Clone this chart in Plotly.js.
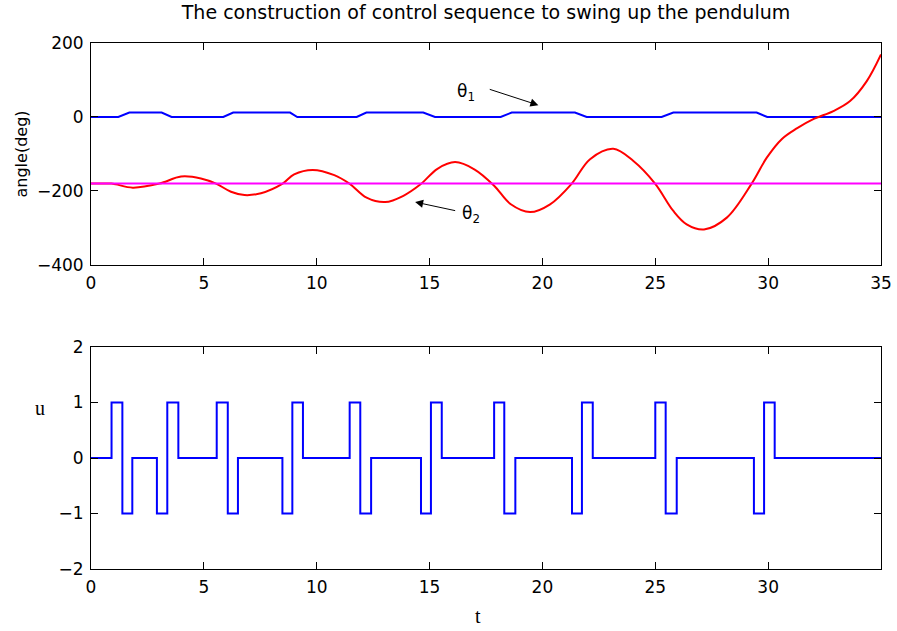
<!DOCTYPE html>
<html>
<head>
<meta charset="utf-8">
<script src="https://cdn.plot.ly/plotly-3.0.1.min.js"></script>
<style>html,body{margin:0;padding:0;background:#fff;}#chart{width:897px;height:631px;}</style>
</head>
<body>
<div id="chart"></div>
<script>
// theta1 (link 1 angle, deg)
const th1T = [0, 1.21, 1.70, 3.13, 3.57, 5.86, 6.30, 8.82, 9.14, 11.77, 12.20, 14.72, 15.24, 18.15, 18.64, 21.44, 21.96, 25.28, 25.80, 29.49, 29.96, 35];
const th1V = [0, 0, 12, 12, 0, 0, 12, 12, 0, 0, 12, 12, 0, 0, 12, 12, 0, 0, 12, 12, 0, 0];
// theta2 (pendulum angle, deg)
const th2T = [0, 0.9, 1.1, 1.85, 3.03, 3.99, 4.87, 5.54, 6.2, 6.8, 7.53, 8.49, 9.0, 9.82, 10.78, 11.45, 12.21, 13.03, 13.84, 14.6, 15.35, 16.13, 17.0, 17.85, 18.6, 19.45, 20.34, 21.3, 22.11, 23.14, 24.03, 24.99, 25.8, 26.39, 27.16, 28.17, 29.27, 29.94, 30.6, 31.27, 32.0, 32.89, 33.63, 34.37, 35];
const th2V = [-180, -180, -182, -191, -180, -161, -166, -180, -202, -211, -206, -180, -155, -143, -157, -180, -218, -230, -213, -182, -140, -122, -142, -185, -236, -257, -236, -180, -114, -86, -119, -180, -254, -290, -304, -272, -180, -110, -60, -31, -6, 16, 43, 97, 169];
// reference line at -180 deg
const refT = [0, 35];
const refV = [-180, -180];
// control sequence u
const uT = [0, 0.91, 1.39, 1.83, 2.92, 3.38, 3.87, 5.57, 6.06, 6.51, 8.48, 8.92, 9.39, 11.46, 11.93, 12.41, 14.62, 15.06, 15.54, 17.86, 18.31, 18.80, 21.31, 21.75, 22.23, 25.00, 25.46, 25.95, 29.37, 29.82, 30.29, 35];
const uV = [0, 1, -1, 0, -1, 1, 0, 1, -1, 0, -1, 1, 0, 1, -1, 0, -1, 1, 0, 1, -1, 0, -1, 1, 0, 1, -1, 0, -1, 1, 0, 0];
// ticks
const topXTicks = [0, 5, 10, 15, 20, 25, 30, 35];
const botXTicks = [0, 5, 10, 15, 20, 25, 30];
const topYTicks = [-400, -200, 0, 200];
const botYTicks = [-2, -1, 0, 1, 2];

const sans = 'DejaVu Sans, Liberation Sans, Arial';
const serif = 'Liberation Serif, Times New Roman, serif';
const tickFont = {family: sans, size: 17, color: '#000'};
const axBase = {
  showline: true, linecolor: '#000', linewidth: 1, mirror: 'allticks',
  ticks: 'inside', ticklen: 7, tickcolor: '#000', tickwidth: 1,
  showgrid: false, zeroline: false, tickfont: tickFont, fixedrange: true,
  ticklabelstandoff: 3
};
const fmt = v => v < 0 ? '\u2212' + Math.abs(v) : String(v);

const traces = [
  {x: th1T, y: th1V, xaxis: 'x', yaxis: 'y', mode: 'lines', line: {color: '#0000ff', width: 2}, hoverinfo: 'skip'},
  {x: th2T, y: th2V, xaxis: 'x', yaxis: 'y', mode: 'lines', line: {color: '#ff0000', width: 2, shape: 'spline', smoothing: 1}, hoverinfo: 'skip'},
  {x: refT, y: refV, xaxis: 'x', yaxis: 'y', mode: 'lines', line: {color: '#ff00ff', width: 2}, hoverinfo: 'skip'},
  {x: uT, y: uV, xaxis: 'x2', yaxis: 'y2', mode: 'lines', line: {color: '#0000ff', width: 2, shape: 'hv'}, hoverinfo: 'skip'}
];

const layout = {
  width: 897, height: 631,
  margin: {l: 91, r: 16, t: 43, b: 62},
  paper_bgcolor: '#fff', plot_bgcolor: '#fff',
  showlegend: false,
  title: {text: 'The construction of control sequence to swing up the pendulum',
          font: {family: sans, size: 19, color: '#000'},
          x: 0.5, xref: 'paper', xanchor: 'center', y: 1 - 12/631, yref: 'container', yanchor: 'middle'},
  xaxis: Object.assign({}, axBase, {domain: [0, 1], anchor: 'y', range: [0, 35], tickvals: topXTicks, ticktext: topXTicks.map(fmt)}),
  yaxis: Object.assign({}, axBase, {domain: [0.578, 1], anchor: 'x', range: [-400, 200], tickvals: topYTicks,
          ticktext: topYTicks.map(fmt),
          title: {text: 'angle(deg)', font: {family: sans, size: 16, color: '#000'}, standoff: 5}}),
  xaxis2: Object.assign({}, axBase, {domain: [0, 1], anchor: 'y2', range: [0, 35], tickvals: botXTicks, ticktext: botXTicks.map(fmt)}),
  yaxis2: Object.assign({}, axBase, {domain: [0, 0.422], anchor: 'x2', range: [-2, 2], tickvals: botYTicks,
          ticktext: botYTicks.map(fmt)}),
  annotations: [
    {xref: 'paper', yref: 'paper', x: (40 - 91) / 790, y: (569 - 408) / 526, text: 'u', showarrow: false,
     font: {family: serif, size: 20, color: '#000'}, xanchor: 'center', yanchor: 'middle'},
    {xref: 'paper', yref: 'paper', x: (478 - 91) / 790, y: (569 - 616) / 526, text: 't', showarrow: false,
     font: {family: serif, size: 20, color: '#000'}, xanchor: 'center', yanchor: 'middle'},
    {xref: 'x', yref: 'y', x: 16.6, y: 66, text: '\u03b8<sub>1</sub>', showarrow: false,
     font: {family: sans, size: 17, color: '#000'}, xanchor: 'center', yanchor: 'middle'},
    {xref: 'x', yref: 'y', x: 19.82, y: 32, ax: 17.6, ay: 76, axref: 'x', ayref: 'y', text: '', showarrow: true,
     arrowhead: 2, arrowsize: 1.6, arrowwidth: 1, arrowcolor: '#000'},
    {xref: 'x', yref: 'y', x: 16.85, y: -264, text: '\u03b8<sub>2</sub>', showarrow: false,
     font: {family: sans, size: 17, color: '#000'}, xanchor: 'center', yanchor: 'middle'},
    {xref: 'x', yref: 'y', x: 14.36, y: -230, ax: 16.2, ay: -254, axref: 'x', ayref: 'y', text: '', showarrow: true,
     arrowhead: 2, arrowsize: 1.6, arrowwidth: 1, arrowcolor: '#000'}
  ]
};

Plotly.newPlot('chart', traces, layout, {displayModeBar: false, staticPlot: true});
</script>
</body>
</html>
